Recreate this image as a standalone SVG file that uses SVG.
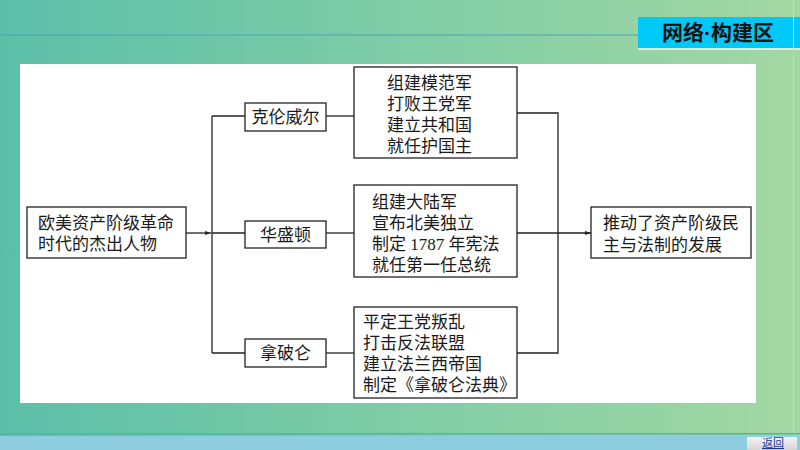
<svg xmlns="http://www.w3.org/2000/svg" width="800" height="450" viewBox="0 0 800 450">
<defs>
<linearGradient id="bg" x1="0" y1="0" x2="1" y2="0">
<stop offset="0" stop-color="#5bbfa8"/>
<stop offset="0.6" stop-color="#86cfa6"/>
<stop offset="1" stop-color="#a3d7a2"/>
</linearGradient>
<linearGradient id="btn" x1="0" y1="0" x2="0" y2="1">
<stop offset="0" stop-color="#f4f4f4"/>
<stop offset="1" stop-color="#d6d6d6"/>
</linearGradient>
<marker id="arr" viewBox="0 0 10 10" refX="10" refY="5" markerWidth="6" markerHeight="6" orient="auto" markerUnits="userSpaceOnUse">
<path d="M0,1.5 L10,5 L0,8.5 Z" fill="#222"/>
</marker>
<style>
.box{fill:#fff;stroke:#222;stroke-width:1.3}
.t{font-family:"Liberation Serif","Noto Sans CJK SC",serif;font-size:17px;fill:#1a1a1a}
.ln{fill:none;stroke:#222;stroke-width:1.3}
</style>
</defs>
<rect x="0" y="0" width="800" height="450" fill="url(#bg)"/>
<line x1="0" y1="35" x2="638" y2="35" stroke="#4aa6b4" stroke-width="1.2"/>
<rect x="638" y="48" width="162" height="2" fill="#d8f2e4"/>
<rect x="638" y="17" width="162" height="31" fill="#00c8f8"/>
<text x="718" y="40" text-anchor="middle" font-family="'Noto Sans CJK SC',sans-serif" font-size="21" font-weight="bold" fill="#111">网络<tspan font-family="'Liberation Sans',sans-serif">·</tspan>构建区</text>
<line x1="793.5" y1="0" x2="793.5" y2="436" stroke="#b6e0b8" stroke-width="1"/>
<rect x="20" y="64" width="736" height="339" fill="#fff"/>
<rect x="0" y="433" width="800" height="1.5" fill="#4fb6a4"/>
<rect x="0" y="436" width="800" height="14" fill="#8ecde0"/>
<rect x="747" y="437" width="50" height="13" fill="url(#btn)"/>
<text x="773" y="447" text-anchor="middle" font-family="'Noto Sans CJK SC',sans-serif" font-size="11" fill="#1a3a9a" text-decoration="underline">返回</text>

<g id="connectors">
<line class="ln" x1="186" y1="233" x2="211" y2="233" marker-end="url(#arr)"/>
<line class="ln" x1="212" y1="116" x2="212" y2="353"/>
<line class="ln" x1="212" y1="116" x2="245" y2="116"/>
<line class="ln" x1="212" y1="233" x2="245" y2="233"/>
<line class="ln" x1="212" y1="353" x2="245" y2="353"/>
<line class="ln" x1="326" y1="116" x2="354" y2="116"/>
<line class="ln" x1="326" y1="233" x2="354" y2="233"/>
<line class="ln" x1="326" y1="353" x2="354" y2="353"/>
<polyline class="ln" points="517,113 558,113 558,353 517,353"/>
<line class="ln" x1="517" y1="233" x2="558" y2="233"/>
<line class="ln" x1="558" y1="233" x2="591" y2="233" marker-end="url(#arr)"/>
</g>

<g id="n-start">
<rect class="box" x="27" y="207" width="159" height="51"/>
<text class="t" x="38" y="229">欧美资产阶级革命</text>
<text class="t" x="38" y="250">时代的杰出人物</text>
</g>
<g id="n-cromwell">
<rect class="box" x="245" y="103" width="81" height="28"/>
<text class="t" x="285.5" y="123" text-anchor="middle">克伦威尔</text>
</g>
<g id="n-washington">
<rect class="box" x="245" y="221" width="81" height="27"/>
<text class="t" x="285.5" y="240.5" text-anchor="middle">华盛顿</text>
</g>
<g id="n-napoleon">
<rect class="box" x="245" y="339" width="81" height="28"/>
<text class="t" x="285.5" y="359" text-anchor="middle">拿破仑</text>
</g>
<g id="d-cromwell">
<rect class="box" x="354" y="67" width="163" height="91"/>
<text class="t" x="387" y="89">组建模范军</text>
<text class="t" x="387" y="110">打败王党军</text>
<text class="t" x="387" y="131">建立共和国</text>
<text class="t" x="387" y="152">就任护国主</text>
</g>
<g id="d-washington">
<rect class="box" x="354" y="185" width="163" height="92"/>
<text class="t" x="372" y="208">组建大陆军</text>
<text class="t" x="372" y="229">宣布北美独立</text>
<text class="t" x="372" y="250">制定 1787 年宪法</text>
<text class="t" x="372" y="271">就任第一任总统</text>
</g>
<g id="d-napoleon">
<rect class="box" x="354" y="307" width="163" height="91"/>
<text class="t" x="363" y="328">平定王党叛乱</text>
<text class="t" x="363" y="349">打击反法联盟</text>
<text class="t" x="363" y="370">建立法兰西帝国</text>
<text class="t" x="363" y="391">制定《拿破仑法典》</text>
</g>
<g id="n-result">
<rect class="box" x="591" y="207" width="160" height="51"/>
<text class="t" x="603" y="229">推动了资产阶级民</text>
<text class="t" x="603" y="251">主与法制的发展</text>
</g>
</svg>
